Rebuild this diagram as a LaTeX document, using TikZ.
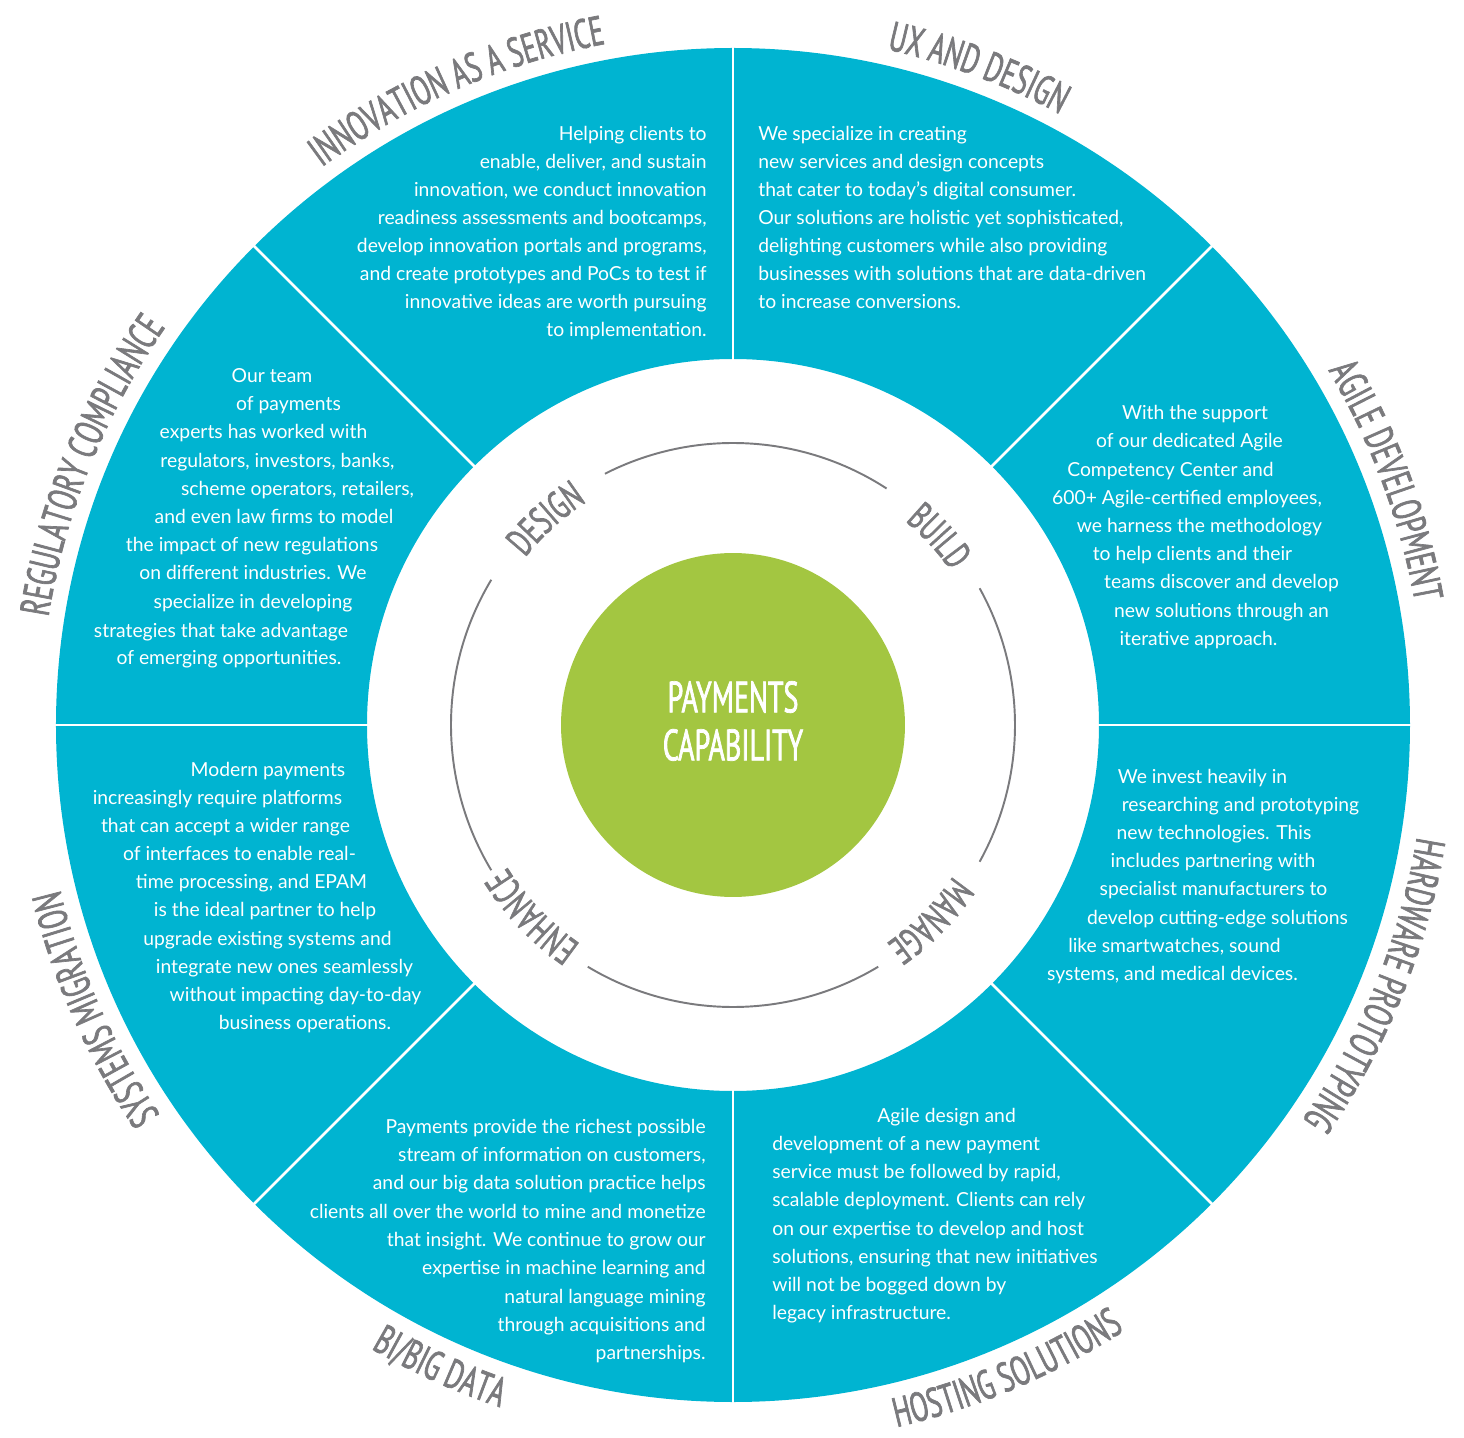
\documentclass[tikz,border=0pt]{standalone}
\usepackage{fontspec}
\setmainfont{Lato}
\newfontfamily\condfont[FakeStretch=0.64, FakeBold=1.6]{PT Sans}
\usetikzlibrary{decorations.text}

\definecolor{ringblue}{RGB}{0,180,209}
\definecolor{coregreen}{RGB}{163,198,65}
\definecolor{labelgray}{RGB}{122,122,125}

\tikzstyle{body}=[text=white, inner sep=0pt, font=\fontsize{11}{12}\selectfont]
\tikzstyle{core}=[circle, fill=coregreen, minimum size=6.88cm, inner sep=0pt]
\tikzstyle{coretext}=[text=white, align=center, font=\fontsize{25}{27.3}\selectfont\condfont]
\tikzstyle{divider}=[white, line width=1.6pt]
\tikzstyle{phase}=[labelgray, line width=1.1pt]

\newcommand{\ringlabel}[5]{\path[decorate, decoration={text along path, text align=center, text color=labelgray,
  text={|\fontsize{#4}{#4}\selectfont\condfont|#5}}] ({#1}:#3) arc[start angle=#1, end angle=#2, radius=#3];}

\begin{document}
\begin{tikzpicture}[x=0.02cm, y=0.02cm]
\useasboundingbox (-733,-712) rectangle (731,725);

\fill[ringblue, even odd rule] (0,0) circle (677) circle (366);
\foreach \a in {0,45,...,315}
  \draw[divider] (\a:360) -- (\a:685);

\draw (0,0) node[core] (core) {};
\draw (0,4) node[coretext] (coretext) {PAYMENTS\\CAPABILITY};

\draw[phase] (117:282) arc[start angle=117, end angle=57, radius=282];
\draw[phase] (29:282) arc[start angle=29, end angle=-29, radius=282];
\draw[phase] (-59:282) arc[start angle=-59, end angle=-121, radius=282];
\draw[phase] (149:282) arc[start angle=149, end angle=211, radius=282];

\ringlabel{162.2}{102.2}{267}{22.5}{DESIGN}
\ringlabel{72.5}{12.5}{267}{22.5}{BUILD}
\ringlabel{-14.7}{-74.7}{267}{22.5}{MANAGE}
\ringlabel{253.6}{193.6}{267}{22.5}{ENHANCE}

\ringlabel{50.5}{-9.5}{693}{23.5}{AGILE DEVELOPMENT}
\ringlabel{99.5}{39.5}{693}{23.5}{UX AND DESIGN}
\ringlabel{143.5}{83.5}{693}{23.5}{INNOVATION AS A SERVICE}
\ringlabel{188}{128}{693}{23.5}{REGULATORY COMPLIANCE}
\ringlabel{234}{174}{693}{23.5}{SYSTEMS MIGRATION}
\ringlabel{8}{-52}{693}{23.5}{HARDWARE PROTOTYPING}
\ringlabel{215.5}{275.5}{721}{23.5}{BI/BIG DATA}
\ringlabel{262}{324}{721}{23.5}{HOSTING SOLUTIONS}

\foreach \y/\txt [count=\i] in {133/Helping clients to, 161/{enable, deliver, and sustain},
  189/{innovation, we conduct innovation}, 217/{readiness assessments and bootcamps,},
  245/{develop innovation portals and programs,}, 273/and create prototypes and PoCs to test if,
  301/innovative ideas are worth pursuing, 329/to implementation.}
  \draw ({707-733},{717-\y}) node[body, anchor=base east] (inno\i) {\txt};

\foreach \y/\txt [count=\i] in {133/We specialize in creating, 161/new services and design concepts,
  189/that cater to today’s digital consumer., 217/{Our solutions are holistic yet sophisticated,},
  245/delighting customers while also providing, 273/businesses with solutions that are data-driven,
  301/to increase conversions.}
  \draw ({758-733},{717-\y}) node[body, anchor=base west] (ux\i) {\txt};

\foreach \x/\y/\txt [count=\i] in {1195/412/With the support, 1189.5/440/of our dedicated Agile,
  1170.5/469/Competency Center and, 1187/497/{600+ Agile-certified employees,},
  1199.5/525/we harness the methodology, 1192.5/553/to help clients and their,
  1221.5/581/teams discover and develop, 1221.5/610/new solutions through an,
  1198.5/638/iterative approach.}
  \draw ({\x-733},{717-\y}) node[body, anchor=base] (agile\i) {\txt};

\foreach \x/\y/\txt [count=\i] in {1202.5/775/We invest heavily in, 1240.5/803/researching and prototyping,
  1214/831/new technologies. This, 1213/859/includes partnering with,
  1213.5/887/specialist manufacturers to, 1217.5/916/develop cutting-edge solutions,
  1174.5/944/{like smartwatches, sound}, 1172.5/972/{systems, and medical devices.}}
  \draw ({\x-733},{717-\y}) node[body, anchor=base] (hard\i) {\txt};

\foreach \x/\y/\txt [count=\i] in {877/1114/Agile design and, 772/1142/development of a new payment,
  772/1170/{service must be followed by rapid,}, 772/1198/scalable deployment. Clients can rely,
  772/1227/on our expertise to develop and host, 772/1255/{solutions, ensuring that new initiatives},
  772/1283/will not be bogged down by, 772/1311/legacy infrastructure.}
  \draw ({\x-733},{717-\y}) node[body, anchor=base west] (host\i) {\txt};

\foreach \y/\txt [count=\i] in {1125/Payments provide the richest possible, 1153/{stream of information on customers,},
  1181/and our big data solution practice helps, 1210/clients all over the world to mine and monetize,
  1238/that insight. We continue to grow our, 1266/expertise in machine learning and,
  1295/natural language mining, 1323/through acquisitions and, 1351/partnerships.}
  \draw ({706-733},{717-\y}) node[body, anchor=base east] (bigdata\i) {\txt};

\foreach \x/\y/\txt [count=\i] in {268/768/Modern payments, 217.5/796/increasingly require platforms,
  225.5/824/that can accept a wider range, 239.5/852/of interfaces to enable real-,
  251.5/880/{time processing, and EPAM}, 265/908/is the ideal partner to help,
  267.5/937/upgrade existing systems and, 284.5/965/integrate new ones seamlessly,
  295.5/993/without impacting day-to-day, 305/1021/business operations.}
  \draw ({\x-733},{717-\y}) node[body, anchor=base] (migr\i) {\txt};

\foreach \x/\y/\txt [count=\i] in {272/375/Our team, 288.5/403/of payments,
  263.5/431/experts has worked with, 277.5/460/{regulators, investors, banks,},
  297.5/488/{scheme operators, retailers,}, 274/516/and even law firms to model,
  252/544/the impact of new regulations, 253/572/on different industries. We,
  253/601/specialize in developing, 221/629/strategies that take advantage,
  229/657/of emerging opportunities.}
  \draw ({\x-733},{717-\y}) node[body, anchor=base] (regul\i) {\txt};
\end{tikzpicture}
\end{document}
